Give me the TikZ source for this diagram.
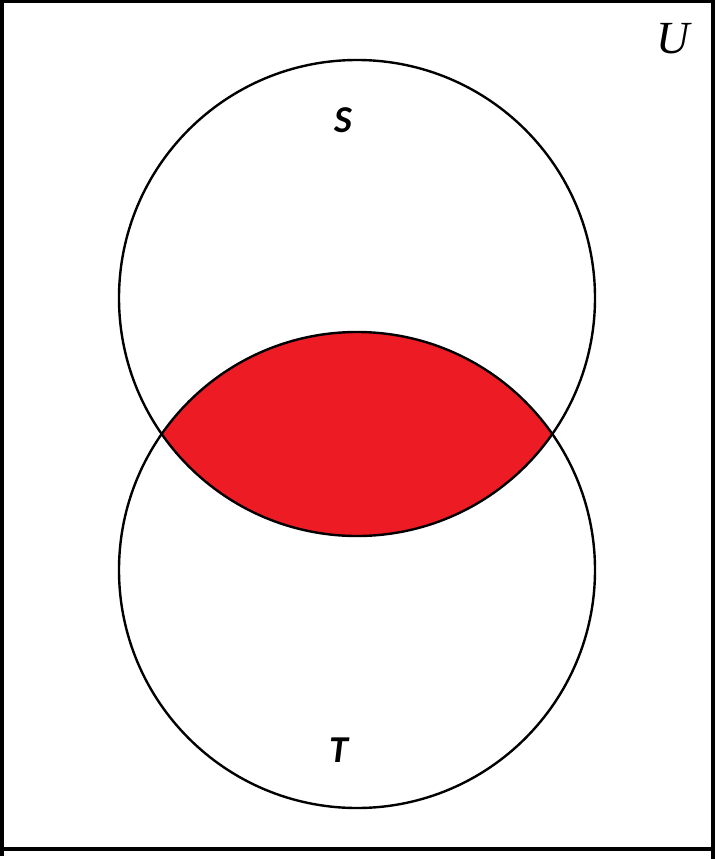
\documentclass[tikz,border=0pt]{standalone}
\usepackage{fontspec}
\setmainfont{Liberation Serif}
\newfontfamily\labelfont{Carlito}
\definecolor{lensred}{HTML}{ED1C24}
\begin{document}
\begin{tikzpicture}[x=1pt,y=-1pt,
  setcircle/.style={draw=black,line width=2.4pt},
  setlabel/.style={font=\labelfont\bfseries\itshape\fontsize{38}{38}\selectfont,inner sep=0pt},
  unilabel/.style={font=\itshape\fontsize{46}{46}\selectfont,inner sep=0pt}]
\useasboundingbox (0,0) rectangle (715,859);
\coordinate (cS) at (357,298);
\coordinate (cT) at (357,570);
\begin{scope}
  \clip (cS) circle[radius=238];
  \fill[lensred] (cT) circle[radius=238];
\end{scope}
\draw[setcircle] (cS) circle[radius=238];
\draw[setcircle] (cT) circle[radius=238];
\draw[line width=4pt] (2,1.5) rectangle (713,849);
\draw[line width=4pt] (2,849) -- (2,856);
\draw[line width=4pt] (713,849) -- (713,859);
\node[setlabel] (S) at (343,120) {S};
\node[setlabel] (T) at (339,750) {T};
\node[unilabel] (U) at (673,39) {U};
\end{tikzpicture}
\end{document}
